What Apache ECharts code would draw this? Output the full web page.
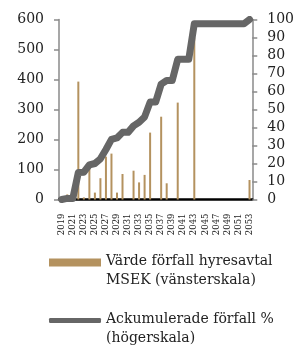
<!DOCTYPE html>
<html>
<head>
<meta charset="utf-8">
<script src="https://cdn.jsdelivr.net/npm/echarts@6/dist/echarts.min.js"></script>
<style>
html,body{margin:0;padding:0;background:#fff;}
#c{width:297px;height:347px;}
</style>
</head>
<body>
<div id="c"></div>
<script>
const years = ['2019','2020','2021','2022','2023','2024','2025','2026','2027','2028',
  '2029','2030','2031','2032','2033','2034','2035','2036','2037','2038',
  '2039','2040','2041','2042','2043','2044','2045','2046','2047','2048',
  '2049','2050','2051','2052','2053'];
const barValues = [0,17,0,393,7,108,23,71,143,153,
  23,85,0,96,57,82,223,0,276,54,
  0,323,0,0,540,0,0,0,0,0,
  0,0,0,0,65];
const cumulativePct = [0,0.6,0.6,15.0,15.2,19.2,20.0,22.6,27.8,33.4,
  34.2,37.3,37.3,40.9,42.9,45.9,54.1,54.1,64.1,66.1,
  66.1,77.9,77.9,77.9,97.6,97.6,97.6,97.6,97.6,97.6,
  97.6,97.6,97.6,97.6,100];
const leftTicks = {min:0, max:600, interval:100};
const rightTicks = {min:0, max:100, interval:10};
const barName = 'Värde förfall hyresavtal\nMSEK (vänsterskala)';
const lineName = 'Ackumulerade förfall %\n(högerskala)';

const FONT = 'DejaVu Serif';
const chart = echarts.init(document.getElementById('c'), null, {renderer:'canvas'});
const legendFormatter = function (name) {
  const parts = name.split('\n');
  return '{s| }\n{a|' + parts[0] + '}\n{a|' + parts[1] + '}';
};
const legendText = {fontFamily:FONT, fontSize:14, color:'#222',
  rich:{a:{fontFamily:FONT, fontSize:14, color:'#222', lineHeight:18.5},
        s:{fontFamily:FONT, fontSize:14, lineHeight:17}}};
chart.setOption({
  animation:false,
  grid:{left:59, right:40, top:19.5, bottom:147.5},
  legend:[
    {data:[{name:barName, icon:'rect'}], left:49, top:237, padding:0, itemWidth:52, itemHeight:8, itemGap:5,
     formatter:legendFormatter, textStyle:legendText},
    {data:[{name:lineName, icon:'roundRect', lineStyle:{width:4.5, color:'#666666', cap:'round'}}],
     left:49, top:295, padding:0, itemWidth:52, itemHeight:5, itemGap:5,
     lineStyle:{width:4.5, cap:'round'},
     formatter:legendFormatter, textStyle:legendText}
  ],
  xAxis:{type:'category', data:years, boundaryGap:true,
    axisLine:{lineStyle:{color:'#000', width:2.5}},
    axisTick:{show:false},
    axisLabel:{interval:1, rotate:90, margin:14, fontFamily:FONT, fontSize:8.5, color:'#222'}
  },
  yAxis:[
    {type:'value', position:'left', min:leftTicks.min, max:leftTicks.max, interval:leftTicks.interval,
     splitLine:{show:false},
     axisLine:{show:true, lineStyle:{color:'#8a8a8a', width:1.5}},
     axisTick:{show:true, length:5, lineStyle:{color:'#8a8a8a', width:1.5}},
     axisLabel:{margin:15, fontFamily:FONT, fontSize:14, color:'#222'}},
    {type:'value', position:'right', min:rightTicks.min, max:rightTicks.max, interval:rightTicks.interval,
     splitLine:{show:false},
     axisLine:{show:true, lineStyle:{color:'#8a8a8a', width:1.5}},
     axisTick:{show:true, length:5, lineStyle:{color:'#8a8a8a', width:1.5}},
     axisLabel:{margin:15, fontFamily:FONT, fontSize:14, color:'#222'}}
  ],
  series:[
    {name:barName, type:'bar', yAxisIndex:0, data:barValues, barWidth:2,
     itemStyle:{color:'#b4925f'}},
    {name:lineName, type:'line', yAxisIndex:1, data:cumulativePct, symbol:'none',
     lineStyle:{color:'#666666', width:7, cap:'round', join:'round'},
     itemStyle:{color:'#666666'}, z:3}
  ]
});
</script>
</body>
</html>
